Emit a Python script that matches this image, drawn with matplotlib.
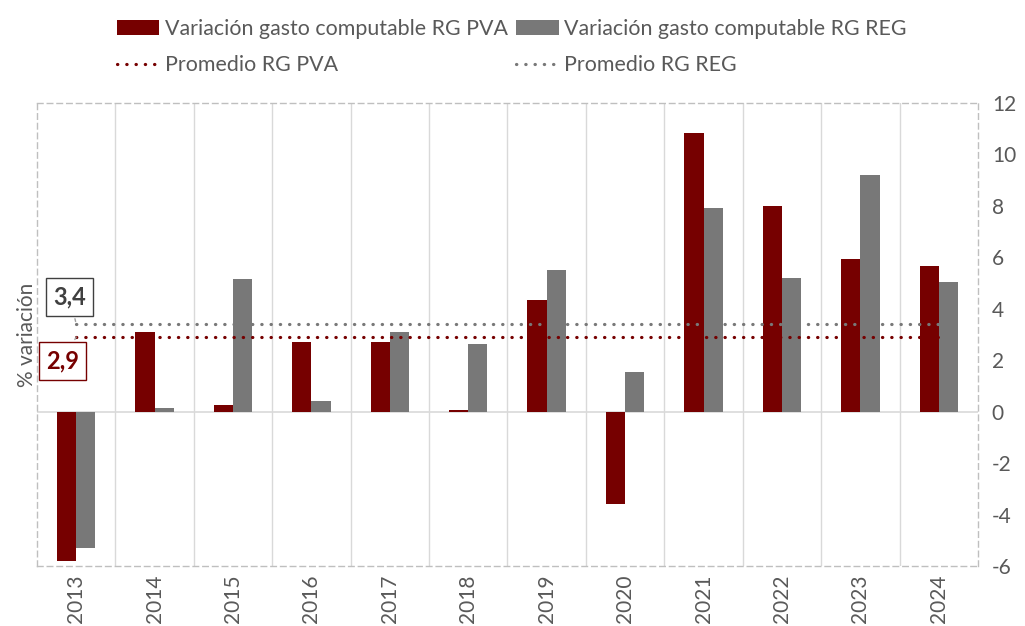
import numpy as np
import matplotlib.pyplot as plt

plt.rcParams['font.family'] = ['Lato', 'DejaVu Sans']
plt.rcParams['axes.unicode_minus'] = False

years = ['2013', '2014', '2015', '2016', '2017', '2018',
         '2019', '2020', '2021', '2022', '2023', '2024']
var_pva = [-5.8, 3.1, 0.25, 2.7, 2.7, 0.05, 4.35, -3.6, 10.85, 8.0, 5.95, 5.65]
var_reg = [-5.3, 0.15, 5.15, 0.4, 3.1, 2.65, 5.5, 1.55, 7.9, 5.2, 9.2, 5.05]
avg_pva = 2.9
avg_reg = 3.4

red = '#760000'
grey = '#787878'
txt = '#595959'

fig = plt.figure(figsize=(10.25, 6.26), dpi=100)
ax = fig.add_axes([0.0361, 0.0958, 0.918, 0.7397])

x = np.arange(len(years))
w = 0.245
b1 = ax.bar(x - w / 2, var_pva, w, color=red, label='Variación gasto computable RG PVA', zorder=3)
b2 = ax.bar(x + w / 2, var_reg, w, color=grey, label='Variación gasto computable RG REG', zorder=3)

l1, = ax.plot(x, [avg_pva] * len(x), color=red, lw=2.3, linestyle=(0, (0.1, 2.8)),
              dash_capstyle='round', label='Promedio RG PVA', zorder=4)
l2, = ax.plot(x, [avg_reg] * len(x), color=grey, lw=2.3, linestyle=(0, (0.1, 2.8)),
              dash_capstyle='round', label='Promedio RG REG', zorder=4)

ax.set_xlim(-0.5, len(years) - 0.5)
ax.set_ylim(-6, 12)
ax.set_yticks(range(-6, 13, 2))
ax.yaxis.tick_right()
ax.tick_params(axis='y', length=0, labelsize=15, labelcolor=txt, pad=10)
ax.set_xticks(x)
ax.set_xticklabels(years, rotation=90, fontsize=15, color=txt)
ax.tick_params(axis='x', length=0, pad=6)

for xb in np.arange(0.5, len(years) - 0.5, 1):
    ax.axvline(xb, color='#d9d9d9', lw=1, zorder=1)
ax.axhline(0, color='#d9d9d9', lw=1.2, zorder=2)

for s in ax.spines.values():
    s.set_linestyle((0, (4, 3)))
    s.set_color('#bfbfbf')
    s.set_linewidth(1)

ax.set_ylabel('% variación', fontsize=15, color=txt, labelpad=0)

ax.annotate('3,4', xy=(0, avg_reg), xytext=(-0.08, 4.46), fontsize=17, fontweight='bold',
            color='#404040', ha='center', va='center',
            bbox=dict(boxstyle='square,pad=0.3', fc='white', ec='#404040', lw=1),
            arrowprops=dict(arrowstyle='-', color='#a0a0a0', lw=1), zorder=6)
ax.annotate('2,9', xy=(0, avg_pva), xytext=(-0.17, 1.97), fontsize=17, fontweight='bold',
            color=red, ha='center', va='center',
            bbox=dict(boxstyle='square,pad=0.3', fc='white', ec=red, lw=1),
            arrowprops=dict(arrowstyle='-', color='#a0a0a0', lw=1), zorder=6)

fig.legend(handles=[b1, l1, b2, l2], ncol=2, loc='upper left', bbox_to_anchor=(0.095, 1.0),
           frameon=False, fontsize=15.4, labelcolor=txt, handlelength=2.0, handletextpad=0.25,
           columnspacing=0.4, labelspacing=0.75)

fig.savefig('out.png', dpi=100)
